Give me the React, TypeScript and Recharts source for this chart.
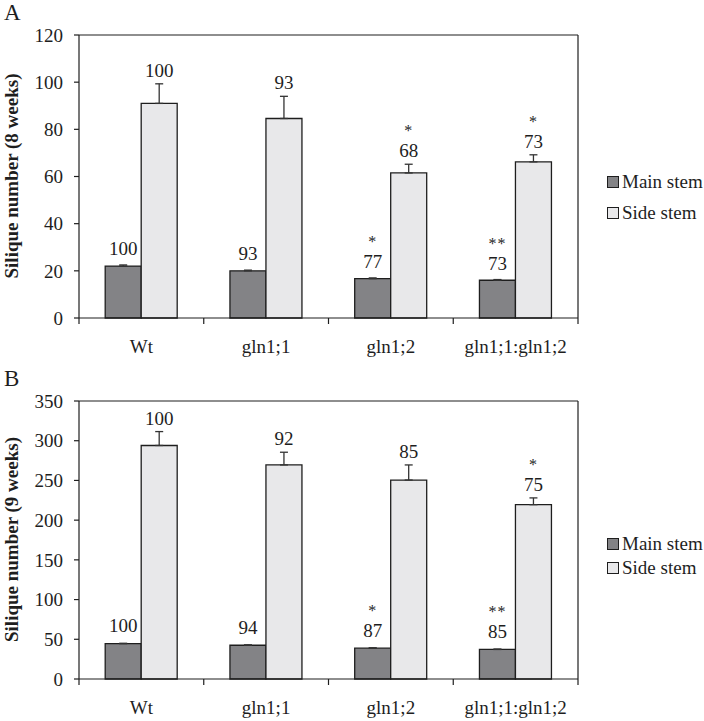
import React from 'react';
import { BarChart, Bar, XAxis, YAxis, ErrorBar, LabelList, Legend } from 'recharts';

const FONT = '"Liberation Serif", "Times New Roman", serif';
const INK = '#1e1e1e';
const MAIN_FILL = '#838386';
const SIDE_FILL = '#e8e8ea';

const lines = ['Wt', 'gln1;1', 'gln1;2', 'gln1;1:gln1;2'];

// panel A, 8 weeks
const mainA = [22, 20, 16.7, 16];
const mainErrA = [0.5, 0.3, 0.3, 0.3];
const sideA = [91, 84.6, 61.5, 66.2];
const sideErrA = [8.3, 9.4, 3.7, 3];
const mainPctA = ['100', '93', '77', '73'];
const mainStarA = ['', '', '*', '**'];
const sidePctA = ['100', '93', '68', '73'];
const sideStarA = ['', '', '*', '*'];

// panel B, 9 weeks
const mainB = [44.5, 42.5, 38.8, 37.2];
const mainErrB = [0.5, 0.5, 0.5, 0.5];
const sideB = [294, 269.5, 250.5, 219.5];
const sideErrB = [17.5, 16, 19, 8.5];
const mainPctB = ['100', '94', '87', '85'];
const mainStarB = ['', '', '*', '**'];
const sidePctB = ['100', '92', '85', '75'];
const sideStarB = ['', '', '', '*'];

const ticksA = [0, 20, 40, 60, 80, 100, 120];
const ticksB = [0, 50, 100, 150, 200, 250, 300, 350];

function buildRows(main: number[], mainErr: number[], side: number[], sideErr: number[]) {
  return lines.map((name, i) => ({
    name,
    main: main[i],
    mainErr: [0, mainErr[i]],
    side: side[i],
    sideErr: [0, sideErr[i]],
  }));
}

// percent label + significance stars sitting above the error bar
function makeLabel(pcts: string[], stars: string[], errs: number[], lift: number) {
  return (props: any) => {
    const { x, y, width, height, index, value } = props;
    const errTop = y - (errs[index] * height) / value;
    const base = errTop - lift + 6;
    const cx = x + width / 2;
    return (
      <g>
        <text x={cx} y={base} textAnchor="middle" fontFamily={FONT} fontSize={19} fill={INK}>
          {pcts[index]}
        </text>
        {stars[index] ? (
          <text x={cx} y={base - 21} textAnchor="middle" fontFamily={FONT} fontSize={16} fill={INK} letterSpacing={1}>
            {stars[index]}
          </text>
        ) : null}
      </g>
    );
  };
}

function XTick(props: any) {
  const { x, y, payload, index, width } = props;
  const band = (width || 499) / lines.length;
  const last = index === lines.length - 1;
  return (
    <g>
      <line x1={x - band / 2} y1={y} x2={x - band / 2} y2={y + 6} stroke={INK} strokeWidth={1.2} />
      {last ? <line x1={x + band / 2} y1={y} x2={x + band / 2} y2={y + 6} stroke={INK} strokeWidth={1.2} /> : null}
      <text x={x} y={y + 35} textAnchor="middle" fontFamily={FONT} fontSize={19} fill={INK}>
        {payload.value}
      </text>
    </g>
  );
}

function StemLegend({ rowGap }: { rowGap: number }) {
  const items = [
    { label: 'Main stem', fill: MAIN_FILL },
    { label: 'Side stem', fill: SIDE_FILL },
  ];
  return (
    <div style={{ fontFamily: FONT, fontSize: 19, color: INK, lineHeight: `${rowGap}px`, whiteSpace: 'nowrap', textAlign: 'left' }}>
      {items.map((it) => (
        <div key={it.label}>
          <span
            style={{
              display: 'inline-block',
              width: 10,
              height: 10,
              border: `1px solid ${INK}`,
              background: it.fill,
              marginRight: 3,
              verticalAlign: 'middle',
              position: 'relative',
              top: -2,
            }}
          />
          {it.label}
        </div>
      ))}
    </div>
  );
}

function Panel(props: {
  letter: string;
  yLabel: string;
  rows: any[];
  domainMax: number;
  ticks: number[];
  top: number;
  height: number;
  marginTop: number;
  labels: { main: any; side: any };
  legendTop: number;
  rowGap: number;
}) {
  const { letter, yLabel, rows, domainMax, ticks, top, height, marginTop, labels, legendTop, rowGap } = props;
  const plotBottom = height - 2 - 40;
  const midY = (marginTop + plotBottom) / 2;
  return (
    <div style={{ position: 'absolute', left: 0, top }}>
      <BarChart
        width={704}
        height={height}
        data={rows}
        margin={{ top: marginTop, right: 125, bottom: 2, left: 0 }}
        barCategoryGap="21%"
        barGap={0}
      >
        <XAxis
          dataKey="name"
          height={40}
          axisLine={{ stroke: INK, strokeWidth: 1.2 }}
          tickLine={false}
          tickSize={0}
          tickMargin={0}
          tick={<XTick />}
          interval={0}
        />
        <XAxis xAxisId="frame" dataKey="name" orientation="top" height={1} tick={false} tickLine={false} axisLine={{ stroke: INK, strokeWidth: 1.2 }} />
        <YAxis
          width={79}
          domain={[0, domainMax]}
          ticks={ticks}
          interval={0}
          axisLine={{ stroke: INK, strokeWidth: 1.2 }}
          tickLine={{ stroke: INK, strokeWidth: 1.2 }}
          tickSize={5}
          tickMargin={11}
          tick={{ fontFamily: FONT, fontSize: 19, fill: INK }}
          label={{
            content: () => (
              <text
                x={18}
                y={midY}
                transform={`rotate(-90, 18, ${midY})`}
                textAnchor="middle"
                fontFamily={FONT}
                fontSize={19}
                fontWeight="bold"
                fill={INK}
              >
                {yLabel}
              </text>
            ),
          }}
        />
        <YAxis yAxisId="frame" orientation="right" width={1} tick={false} tickLine={false} axisLine={{ stroke: INK, strokeWidth: 1.2 }} />
        <Legend
          layout="vertical"
          verticalAlign="middle"
          align="center"
          wrapperStyle={{ left: 607, top: legendTop, width: 100 }}
          content={() => <StemLegend rowGap={rowGap} />}
        />
        <Bar dataKey="main" name="Main stem" fill={MAIN_FILL} stroke={INK} strokeWidth={1.3} isAnimationActive={false}>
          <ErrorBar dataKey="mainErr" width={4} stroke="#333" strokeWidth={1.3} direction="y" />
          <LabelList dataKey="main" content={labels.main} />
        </Bar>
        <Bar dataKey="side" name="Side stem" fill={SIDE_FILL} stroke={INK} strokeWidth={1.3} isAnimationActive={false}>
          <ErrorBar dataKey="sideErr" width={4} stroke="#333" strokeWidth={1.3} direction="y" />
          <LabelList dataKey="side" content={labels.side} />
        </Bar>
      </BarChart>
      <div
        style={{
          position: 'absolute',
          left: 4,
          top: marginTop - 34,
          fontFamily: FONT,
          fontSize: 23,
          color: INK,
          lineHeight: '26px',
        }}
      >
        {letter}
      </div>
    </div>
  );
}

export default function App() {
  const rowsA = buildRows(mainA, mainErrA, sideA, sideErrA);
  const rowsB = buildRows(mainB, mainErrB, sideB, sideErrB);
  return (
    <div style={{ position: 'absolute', left: 0, top: 0, width: 704, height: 721, background: '#fff' }}>
      <Panel
        letter="A"
        yLabel="Silique number (8 weeks)"
        rows={rowsA}
        domainMax={120}
        ticks={ticksA}
        top={0}
        height={360}
        marginTop={34}
        labels={{
          main: makeLabel(mainPctA, mainStarA, mainErrA, 16),
          side: makeLabel(sidePctA, sideStarA, sideErrA, 13),
        }}
        legendTop={166}
        rowGap={31}
      />
      <Panel
        letter="B"
        yLabel="Silique number (9 weeks)"
        rows={rowsB}
        domainMax={350}
        ticks={ticksB}
        top={360}
        height={361}
        marginTop={40}
        labels={{
          main: makeLabel(mainPctB, mainStarB, mainErrB, 17),
          side: makeLabel(sidePctB, sideStarB, sideErrB, 13),
        }}
        legendTop={172}
        rowGap={24}
      />
    </div>
  );
}
